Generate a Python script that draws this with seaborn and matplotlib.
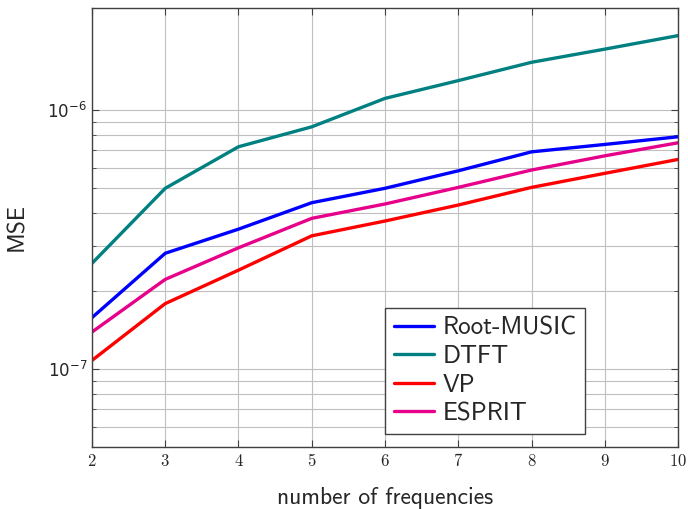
import numpy as np
import pandas as pd
import matplotlib
matplotlib.use("Agg")
import matplotlib.pyplot as plt
import matplotlib.ticker as mticker
import seaborn as sns

# data
n_freq = [2, 3, 4, 5, 6, 7, 8, 9, 10]
root_music = [1.58e-7, 2.80e-7, 3.47e-7, 4.39e-7, 4.99e-7, 5.83e-7, 6.90e-7, 7.37e-7, 7.89e-7]
dtft = [2.56e-7, 4.99e-7, 7.22e-7, 8.62e-7, 1.11e-6, 1.30e-6, 1.53e-6, 1.72e-6, 1.94e-6]
vp = [1.08e-7, 1.79e-7, 2.41e-7, 3.27e-7, 3.73e-7, 4.30e-7, 5.03e-7, 5.70e-7, 6.45e-7]
esprit = [1.39e-7, 2.22e-7, 2.94e-7, 3.82e-7, 4.34e-7, 5.03e-7, 5.87e-7, 6.66e-7, 7.48e-7]

methods = ["Root-MUSIC", "DTFT", "VP", "ESPRIT"]
series = [root_music, dtft, vp, esprit]
colors = ["#0000ff", "#008080", "#ff0000", "#e6008a"]

df = pd.concat([pd.DataFrame({"n": n_freq, "mse": s, "method": m})
                for m, s in zip(methods, series)], ignore_index=True)

sns.set_style("ticks")
plt.rcParams["mathtext.fontset"] = "cm"

fig = plt.figure(figsize=(6.88, 5.09), dpi=100)
ax = fig.add_axes([0.1337, 0.1218, 0.8518, 0.8625])

sns.lineplot(data=df, x="n", y="mse", hue="method", hue_order=methods,
             palette=colors, linewidth=2.4, ax=ax)

ax.set_yscale("log")
ax.set_xlim(2, 10)
ax.set_ylim(5.0e-8, 2.48e-6)

ax.xaxis.set_major_locator(mticker.FixedLocator(n_freq))
ax.xaxis.set_major_formatter(mticker.FuncFormatter(lambda v, p: f"${int(v)}$"))
ax.yaxis.set_major_locator(mticker.FixedLocator([1e-7, 1e-6]))
ax.yaxis.set_major_formatter(mticker.LogFormatterMathtext())
minor = [k * 1e-8 for k in range(5, 10)] + [k * 1e-7 for k in range(2, 10)]
ax.yaxis.set_minor_locator(mticker.FixedLocator(minor))
ax.yaxis.set_minor_formatter(mticker.NullFormatter())

ax.grid(True, which="major", color="#bfbfbf", linewidth=0.8)
ax.grid(True, which="minor", axis="y", color="#bfbfbf", linewidth=0.8)
ax.set_axisbelow(True)
ax.tick_params(which="both", direction="in", top=True, right=True,
               labelsize=12, color="#404040")
ax.tick_params(which="major", length=5, width=0.8)
ax.tick_params(which="minor", length=3, width=0.6)
for sp in ax.spines.values():
    sp.set_color("#404040")
    sp.set_linewidth(1.0)

ax.set_xlabel("number of frequencies", fontsize=17, family="cmss10", labelpad=12)
ax.set_ylabel("MSE", fontsize=17, family="cmss10", labelpad=14)

leg = ax.legend(loc="lower left", bbox_to_anchor=(0.5, 0.03), frameon=True,
                fancybox=False, edgecolor="#404040",
                prop={"family": "cmss10", "size": 18},
                handlelength=1.6, handletextpad=0.35, labelspacing=0.22,
                borderpad=0.35, borderaxespad=0)
leg.get_frame().set_linewidth(1.0)
leg.get_frame().set_alpha(1)

fig.savefig("out.png", dpi=100)
